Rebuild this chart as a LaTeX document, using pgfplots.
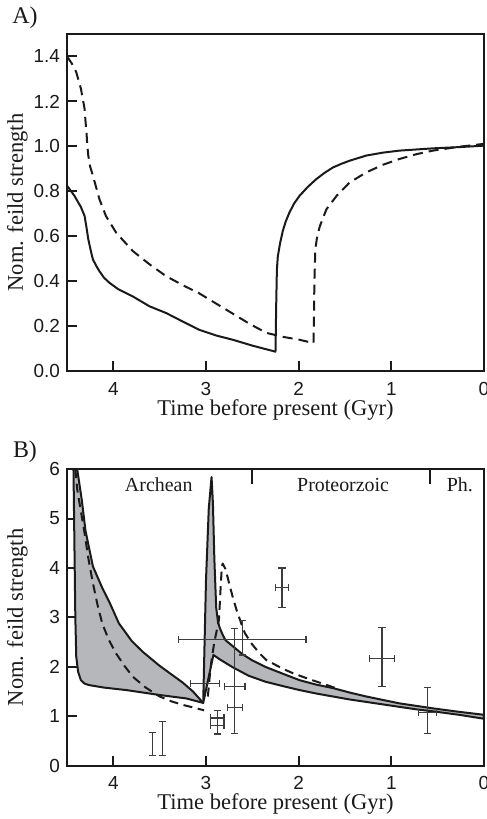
\documentclass[border=0pt]{standalone}
\usepackage{fontspec}
\setmainfont{Liberation Serif}
\newfontfamily\ticksf{Liberation Sans}
\usepackage{pgfplots}
\pgfplotsset{compat=1.18}
\definecolor{bandgray}{HTML}{B5B7BA}
\definecolor{errgray}{HTML}{3C3C3C}
\definecolor{ink}{HTML}{1A1A1A}

\pgfplotsset{
  fieldaxis/.style={
    scale only axis,
    width=208.5bp,
    x dir=reverse,
    xmin=0, xmax=4.5,
    xtick={0,1,2,3,4},
    tick pos=left,
    tick align=inside,
    major tick length=5bp,
    axis line style={ink, line width=1bp},
    tick style={ink, line width=1bp},
    /pgf/number format/assume math mode=true,
    tick label style={font=\ticksf\fontsize{9.5}{11}\selectfont, text=ink},
    xticklabel style={yshift=-2bp},
    label style={font=\fontsize{11.3}{13}\selectfont, text=ink},
    xlabel={Time before present (Gyr)},
    ylabel={Nom. feild strength},
    xlabel style={at={(axis description cs:0.5,0)}, anchor=base, yshift=-22bp},
    ylabel style={at={(axis description cs:-0.1187,0.5)}, anchor=center, rotate=0},
    clip=true,
  },
  errstyle/.style={draw=none, mark=none, forget plot,
    error bars/error mark=|,
    error bars/error bar style={draw=errgray, line width=0.6bp, solid},
    error bars/error mark options={draw=errgray, line width=0.6bp, mark size=1.8bp, solid}},
}

\begin{document}
\begin{tikzpicture}
\path[use as bounding box] (-33.5bp,-224bp) rectangle (210bp,185.5bp);

% ---------------- Panel A ----------------
\begin{axis}[
  fieldaxis,
  at={(0bp,0bp)}, anchor=south west,
  height=168.5bp,
  ymin=0, ymax=1.5,
  ytick={0,0.2,0.4,0.6,0.8,1.0,1.2,1.4},
  yticklabel style={/pgf/number format/.cd, fixed, fixed zerofill, precision=1},
]
% solid
\addplot[ink, line width=1bp, line join=round] coordinates {
 (4.5,0.825) (4.42,0.78) (4.35,0.73) (4.31,0.69) (4.29,0.64) (4.27,0.586)
 (4.24,0.53) (4.22,0.496) (4.18,0.465) (4.15,0.444) (4.10,0.415) (4.04,0.392)
 (3.95,0.365) (3.79,0.332) (3.61,0.288) (3.43,0.258) (3.25,0.22) (3.07,0.183)
 (2.89,0.158) (2.71,0.139) (2.50,0.113) (2.25,0.086) (2.242,0.30) (2.235,0.45)
 (2.225,0.51) (2.20,0.57) (2.17,0.625) (2.14,0.665) (2.10,0.705) (2.05,0.745)
 (1.99,0.78) (1.90,0.82) (1.81,0.854) (1.72,0.882) (1.63,0.906) (1.54,0.922)
 (1.45,0.936) (1.27,0.959) (1.09,0.972) (0.91,0.981) (0.55,0.991) (0.25,0.997) (0,1.003)
};
% dashed
\addplot[ink, line width=1bp, dash pattern=on 5bp off 3bp, line join=round] coordinates {
 (4.5,1.40) (4.45,1.37) (4.40,1.33) (4.35,1.257) (4.32,1.19) (4.31,1.167)
 (4.30,1.11) (4.29,1.063) (4.28,1.00) (4.27,0.959) (4.25,0.91) (4.22,0.869)
 (4.15,0.765) (4.08,0.690) (3.97,0.616) (3.79,0.534) (3.61,0.475) (3.43,0.422)
 (3.25,0.382) (3.07,0.345) (2.89,0.30) (2.71,0.255) (2.53,0.21) (2.35,0.170)
 (2.17,0.152) (1.99,0.139) (1.84,0.124) (1.835,0.25) (1.83,0.40) (1.82,0.541)
 (1.80,0.60) (1.77,0.646) (1.70,0.72) (1.59,0.78) (1.45,0.839) (1.27,0.884)
 (1.09,0.918) (0.91,0.944) (0.73,0.965) (0.55,0.981) (0.27,0.998) (0,1.011)
};
\end{axis}
\node[font=\fontsize{12}{14}\selectfont, text=ink] at (-21bp,176.5bp) {A)};

% ---------------- Panel B ----------------
\begin{axis}[
  fieldaxis,
  at={(0bp,-197.35bp)}, anchor=south west,
  height=148.3bp,
  ymin=0, ymax=6,
  ytick={0,1,2,3,4,5,6},
]
% left band
\addplot[fill=bandgray, draw=ink, line width=1bp, line join=round] coordinates {
 (4.43,6.0) (4.42,4.5) (4.41,3.0) (4.40,2.2) (4.38,1.9) (4.35,1.73) (4.31,1.66)
 (4.26,1.63) (4.10,1.58) (3.86,1.53) (3.50,1.43) (3.21,1.36) (3.03,1.27)
 (3.14,1.50) (3.25,1.68) (3.39,1.87) (3.50,2.02) (3.68,2.30) (3.80,2.52)
 (3.94,2.88) (4.04,3.30) (4.12,3.60) (4.22,4.03) (4.30,4.75) (4.34,5.37) (4.39,6.0)
} -- cycle;
% spike and right band
\addplot[fill=bandgray, draw=ink, line width=1bp, line join=round] coordinates {
 (3.03,1.27) (3.00,3.75) (2.97,5.2) (2.94,5.84) (2.925,5.3) (2.91,4.2) (2.89,3.2)
 (2.87,2.90) (2.85,2.78) (2.82,2.65) (2.79,2.54) (2.70,2.40) (2.61,2.26)
 (2.50,2.13) (2.36,2.0) (2.17,1.86) (1.99,1.73) (1.81,1.64) (1.63,1.57)
 (1.45,1.48) (1.27,1.40) (1.09,1.33) (0.91,1.26) (0.73,1.21) (0.55,1.16)
 (0.27,1.09) (0,1.03) (0,0.95) (0.27,1.03) (0.55,1.10) (0.73,1.14) (0.91,1.19)
 (1.09,1.24) (1.27,1.29) (1.45,1.34) (1.63,1.40) (1.81,1.46) (1.99,1.53)
 (2.17,1.61) (2.36,1.70) (2.54,1.82) (2.72,2.0) (2.85,2.15) (2.92,2.24)
} -- cycle;
% dashed model
\addplot[ink, line width=1bp, dash pattern=on 4.5bp off 2.8bp, line join=round] coordinates {
 (4.41,6.0) (4.39,5.6) (4.37,5.37) (4.31,4.70) (4.27,4.2) (4.22,3.69) (4.17,3.25)
 (4.12,2.88) (4.05,2.55) (3.97,2.27) (3.88,2.02) (3.79,1.80) (3.65,1.58)
 (3.50,1.40) (3.37,1.30) (3.25,1.23) (3.12,1.17) (3.02,1.12)
};
\addplot[ink, line width=1bp, dash pattern=on 4.5bp off 2.8bp, line join=round] coordinates {
 (2.98,1.40) (2.96,1.80) (2.94,2.14) (2.91,2.50) (2.89,2.68) (2.86,2.95)
 (2.845,3.5) (2.83,4.0) (2.82,4.09) (2.79,3.98) (2.75,3.69) (2.71,3.40)
 (2.67,3.15) (2.62,2.88) (2.58,2.68) (2.50,2.45) (2.42,2.27) (2.35,2.14)
 (2.17,1.96) (2.06,1.87) (1.90,1.76) (1.74,1.66) (1.60,1.57)
};
% palaeointensity data: both directions
\addplot[errstyle, error bars/.cd, x dir=both, x explicit, y dir=both, y explicit]
 coordinates {
 (2.61,2.56) += (0.69,0.37) -= (0.69,0.32)
 (2.69,1.61) += (0.11,1.16) -= (0.11,0.96)
 (2.88,0.965) += (0.075,0.145) -= (0.075,0.145)
 (2.88,0.82) += (0.075,0.145) -= (0.075,0.18)
 (2.18,3.60) += (0.07,0.40) -= (0.07,0.40)
 (1.10,2.17) += (0.135,0.62) -= (0.135,0.56)
 (0.61,1.08) += (0.10,0.50) -= (0.10,0.43)
};
% vertical only
\addplot[errstyle, error bars/.cd, y dir=both, y explicit]
 coordinates {
 (3.58,0.435) +- (0,0.235)
 (3.47,0.55) +- (0,0.35)
};
% horizontal only
\addplot[errstyle, error bars/.cd, x dir=both, x explicit]
 coordinates {
 (3.01,1.67) +- (0.16,0)
 (2.69,1.18) +- (0.08,0)
};
% eon boundaries and names
\draw[ink, line width=1bp] (axis cs:2.5,6) -- (axis cs:2.5,5.7);
\draw[ink, line width=1bp] (axis cs:0.584,6) -- (axis cs:0.584,5.7);
\node[font=\fontsize{10}{12}\selectfont, text=ink] at (axis cs:3.51,5.68) {Archean};
\node[font=\fontsize{10}{12}\selectfont, text=ink] at (axis cs:1.52,5.68) {Proteorzoic};
\node[font=\fontsize{10}{12}\selectfont, text=ink] at (axis cs:0.26,5.68) {Ph.};
\end{axis}
\node[font=\fontsize{12}{14}\selectfont, text=ink] at (-21bp,-40.35bp) {B)};
\end{tikzpicture}
\end{document}
